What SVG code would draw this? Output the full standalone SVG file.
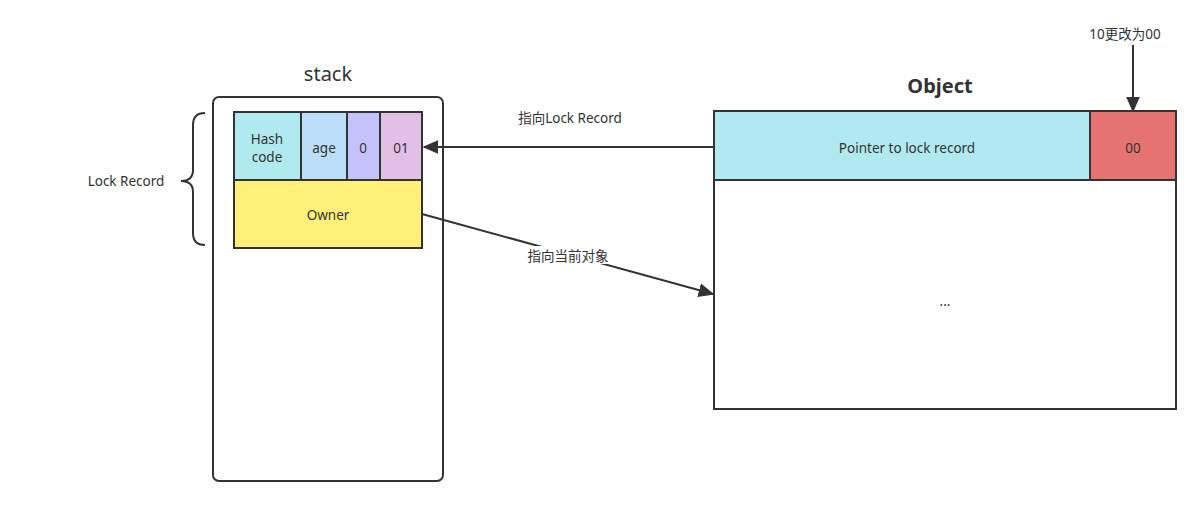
<svg xmlns="http://www.w3.org/2000/svg" width="1204" height="525" viewBox="0 0 1204 525">
<style>
.t{font-family:"Noto Sans","Noto Sans CJK SC",sans-serif;font-size:13.5px;fill:#333;text-anchor:middle;dominant-baseline:central}
.cell{stroke:#333;stroke-width:2}
.ln{stroke:#333;stroke-width:2;fill:none}
</style>
<defs>
<marker id="ah" viewBox="0 0 10 10" refX="9" refY="5" markerWidth="9" markerHeight="9" markerUnits="userSpaceOnUse" orient="auto">
<path d="M0,0 L10,5 L0,10 Z" fill="#333"/>
</marker>
<marker id="ah2" viewBox="0 0 10 10" refX="9" refY="5" markerWidth="16" markerHeight="14" markerUnits="userSpaceOnUse" orient="auto" preserveAspectRatio="none">
<path d="M0,0 L10,5 L0,10 Z" fill="#333"/>
</marker>
</defs>
<rect width="1204" height="525" fill="#fff"/>
<g id="stack">
<rect x="213" y="97" width="230" height="384" rx="6" fill="#fff" stroke="#333" stroke-width="2"/>
<text class="t" x="328" y="73" style="font-size:20px">stack</text>
</g>
<g id="hashcode">
<rect class="cell" x="234" y="112" width="67" height="68" fill="#b1e9f0"/>
<text class="t" x="267" y="139">Hash</text>
<text class="t" x="267" y="157">code</text>
</g>
<g id="age">
<rect class="cell" x="301" y="112" width="46" height="68" fill="#bcdef8"/>
<text class="t" x="324" y="148">age</text>
</g>
<g id="bit0">
<rect class="cell" x="347" y="112" width="33" height="68" fill="#c4c2fb"/>
<text class="t" x="363" y="148">0</text>
</g>
<g id="bits01">
<rect class="cell" x="380" y="112" width="42" height="68" fill="#e2bfe4"/>
<text class="t" x="401" y="148">01</text>
</g>
<g id="owner">
<rect class="cell" x="234" y="180" width="188" height="68" fill="#fff07a"/>
<text class="t" x="328" y="215">Owner</text>
</g>
<g id="lockrecord-brace">
<path class="ln" d="M205,113 Q193,113 193,125 L193,170 Q193,181 181,181 Q193,181 193,192 L193,233 Q193,245 205,245" stroke-width="1.8"/>
<text class="t" x="126" y="181">Lock Record</text>
</g>
<g id="object">
<text class="t" x="940" y="85" style="font-size:20px;font-weight:bold">Object</text>
<rect x="714" y="111" width="462" height="298" fill="#fff" stroke="#333" stroke-width="2"/>
<text class="t" x="945" y="301">...</text>
</g>
<g id="pointer">
<rect class="cell" x="714" y="111" width="376" height="69" fill="#b1e9f0"/>
<text class="t" x="907" y="148">Pointer to lock record</text>
</g>
<g id="bits00">
<rect class="cell" x="1090" y="111" width="86" height="69" fill="#e47371"/>
<text class="t" x="1133" y="148">00</text>
</g>
<g id="connectors">
<line class="ln" x1="714" y1="147" x2="424" y2="147" marker-end="url(#ah2)"/>
<text class="t" x="570" y="118">指向Lock Record</text>
<line class="ln" x1="422" y1="214" x2="713" y2="294" marker-end="url(#ah2)"/>
<rect x="524" y="246" width="88" height="18" fill="#fff"/>
<text class="t" x="568" y="256">指向当前对象</text>
<line class="ln" x1="1133" y1="45" x2="1133" y2="111" marker-end="url(#ah2)"/>
<text class="t" x="1125" y="34">10更改为00</text>
</g>
</svg>
